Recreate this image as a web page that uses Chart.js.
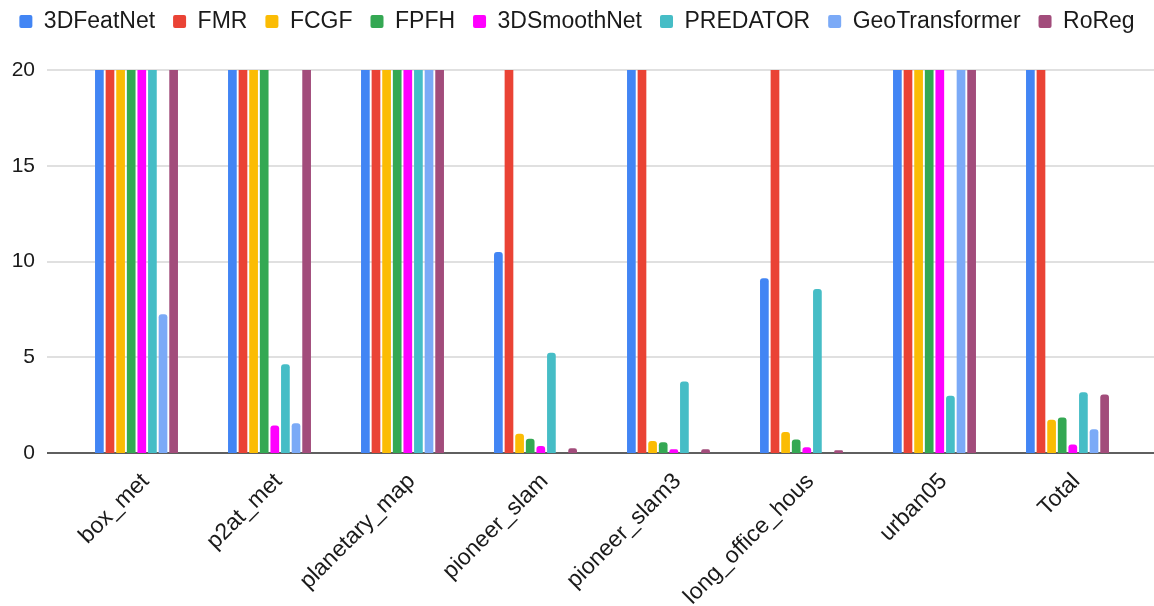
<!DOCTYPE html>
<html>
<head>
<meta charset="utf-8">
<script src="https://cdn.jsdelivr.net/npm/chart.js@4"></script>
<style>
  html, body { margin: 0; padding: 0; background: #fff; }
  #wrap { width: 1154px; height: 606px; }
</style>
</head>
<body>
<div id="wrap"><canvas id="chart"></canvas></div>
<script>
// categories (x axis)
const categories = ['box_met', 'p2at_met', 'planetary_map', 'pioneer_slam', 'pioneer_slam3', 'long_office_hous', 'urban05', 'Total'];

// series values (20 = bar runs off the top of the 0-20 axis)
const feat3d      = [20, 20, 20, 10.5, 20, 9.12, 20, 20];
const fmr         = [20, 20, 20, 20, 20, 20, 20, 20];
const fcgf        = [20, 20, 20, 1.0, 0.63, 1.1, 20, 1.74];
const fpfh        = [20, 20, 20, 0.75, 0.56, 0.7, 20, 1.86];
const smoothNet   = [20, 1.43, 20, 0.37, 0.19, 0.3, 20, 0.44];
const predator    = [20, 4.63, 20, 5.24, 3.74, 8.56, 2.99, 3.17];
const geoTrans    = [7.25, 1.55, 20, 0, 0, 0, 20, 1.24];
const roreg       = [20, 20, 20, 0.25, 0.19, 0.15, 20, 3.06];

const yTicks = [0, 5, 10, 15, 20];

const Colors = {
    blue: '#4285F4',
    red: '#EA4335',
    yellow: '#FBBC04',
    green: '#34A853',
    magenta: '#FF00FF',
    teal: '#46BDC6',
    lightblue: '#7BAAF7',
    plum: '#A24C7B'
};

function makeSet(label, data, color) {
    return {
        label: label,
        data: data,
        backgroundColor: color,
        borderColor: color,
        borderWidth: 0,
        borderSkipped: 'bottom',
        borderRadius: function (ctx) {
            return ctx.raw >= 20 ? 0 : 3;
        },
        barPercentage: 0.82,
        categoryPercentage: 0.638
    };
}

const chartData = {
    labels: categories,
    datasets: [
        makeSet('3DFeatNet', feat3d, Colors.blue),
        makeSet('FMR', fmr, Colors.red),
        makeSet('FCGF', fcgf, Colors.yellow),
        makeSet('FPFH', fpfh, Colors.green),
        makeSet('3DSmoothNet', smoothNet, Colors.magenta),
        makeSet('PREDATOR', predator, Colors.teal),
        makeSet('GeoTransformer', geoTrans, Colors.lightblue),
        makeSet('RoReg', roreg, Colors.plum)
    ]
};

// horizontal grid lines that run a bit past the plot on both sides, like Sheets does
const wideGrid = {
    id: 'wideGrid',
    beforeDatasetsDraw(chart) {
        const y = chart.scales.y;
        const c = chart.ctx;
        c.save();
        y.ticks.forEach(function (t) {
            const py = Math.round(y.getPixelForValue(t.value));
            c.beginPath();
            c.strokeStyle = t.value === 0 ? '#5f5f5f' : '#d6d6d6';
            c.lineWidth = t.value === 0 ? 2 : 1.5;
            c.moveTo(chart.chartArea.left - 23, py);
            c.lineTo(chart.width, py);
            c.stroke();
        });
        c.restore();
    }
};

Chart.defaults.font.family = '"Liberation Sans", Arial, sans-serif';
Chart.defaults.color = '#1a1a1a';

const ctx = document.getElementById('chart').getContext('2d');
const myChart = new Chart(ctx, {
    type: 'bar',
    data: chartData,
    plugins: [wideGrid],
    options: {
        responsive: true,
        maintainAspectRatio: false,
        animation: false,
        layout: { padding: { left: 0, right: 0, top: -8, bottom: 0 } },
        plugins: {
            legend: {
                position: 'top',
                labels: {
                    boxWidth: 13,
                    boxHeight: 13,
                    useBorderRadius: true,
                    borderRadius: 2,
                    padding: 18,
                    font: { size: 23 },
                    color: '#1a1a1a'
                }
            },
            // empty spacer between the legend and the plot
            title: {
                display: true,
                text: '',
                weight: 500,
                padding: 0,
                font: { size: 27, lineHeight: 1 }
            },
            tooltip: { enabled: false }
        },
        scales: {
            x: {
                grid: { display: false },
                border: { display: false },
                ticks: {
                    minRotation: 45,
                    maxRotation: 45,
                    padding: 7,
                    labelOffset: 9,
                    font: { size: 23 },
                    color: '#1a1a1a'
                },
                afterFit: function (scale) {
                    scale.paddingLeft = 0;
                    scale.paddingRight = 20;
                    scale.height = 153;
                }
            },
            y: {
                min: 0,
                max: 20,
                afterBuildTicks: function (axis) {
                    axis.ticks = yTicks.map(function (v) { return { value: v }; });
                },
                border: { display: false },
                grid: { display: false, drawTicks: false },
                ticks: {
                    padding: 35,
                    font: { size: 21 },
                    color: '#1a1a1a'
                },
                afterFit: function (scale) {
                    scale.width = 70;
                    scale.paddingTop = 70;
                }
            }
        }
    }
});
</script>
</body>
</html>
